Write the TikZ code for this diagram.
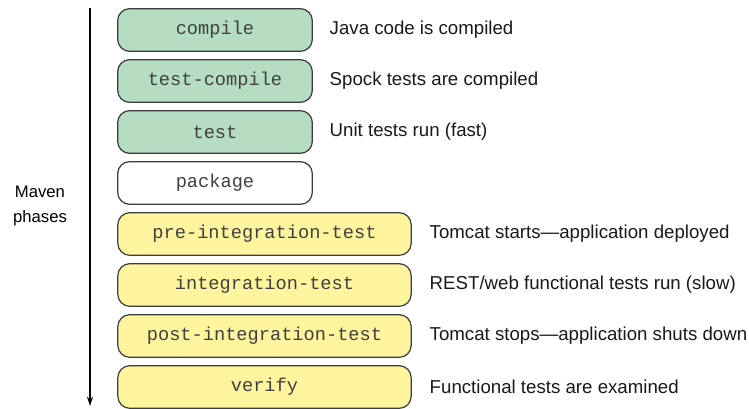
\documentclass[tikz,border=0pt]{standalone}
\usepackage{fontspec}
\setmainfont{Liberation Sans}
\setmonofont{Liberation Mono}
\usetikzlibrary{arrows.meta}
\definecolor{phasegreen}{HTML}{B5DDC2}
\definecolor{phaseyellow}{HTML}{FFF59E}
\definecolor{phaseline}{HTML}{3C3C3C}
\tikzset{
  phase/.style={draw=phaseline, line width=0.9pt, rounded corners=9pt, minimum height=32pt,
    font=\ttfamily\fontsize{14}{16}\selectfont, text=black!75},
  short/.style={phase, minimum width=146pt},
  long/.style={phase, minimum width=220pt},
  note/.style={anchor=west, font=\fontsize{14}{16}\selectfont, text=black!90}
}
\begin{document}
\begin{tikzpicture}[x=0.75pt, y=-0.75pt]
    \useasboundingbox (0,0) rectangle (749,408);
    \coordinate (top) at (90,8);
    \coordinate (bottom) at (90,406);
    \draw [line width=0.9pt, -{Stealth[length=7pt, width=4.5pt]}] (top)--(bottom);
    \node [align=center, font=\fontsize{12.5}{19}\selectfont] (maven) at (40,206) {Maven\\phases};
    % phases before the tests run
    \node [short, fill=phasegreen] (compile) at (215,30) {compile};
    \node [short, fill=phasegreen] (testcompile) at (215,81) {test-compile};
    \node [short, fill=phasegreen] (test) at (215,132) {test};
    \node [short, fill=white] (package) at (215,183) {package};
    % integration phases
    \node [long, fill=phaseyellow] (preint) at (264.5,234) {pre-integration-test};
    \node [long, fill=phaseyellow] (int) at (264.5,285) {integration-test};
    \node [long, fill=phaseyellow] (postint) at (264.5,336) {post-integration-test};
    \node [long, fill=phaseyellow] (verify) at (264.5,387) {verify};
    % what happens in each phase
    \node [note] (compilenote) at (325,30) {Java code is compiled};
    \node [note] (testcompilenote) at (325,81) {Spock tests are compiled};
    \node [note] (testnote) at (325,132) {Unit tests run (fast)};
    \node [note] (preintnote) at (425,234) {Tomcat starts—application deployed};
    \node [note] (intnote) at (425,285) {REST/web functional tests run (slow)};
    \node [note] (postintnote) at (425,336) {Tomcat stops—application shuts down};
    \node [note] (verifynote) at (425,387) {Functional tests are examined};
\end{tikzpicture}
\end{document}
